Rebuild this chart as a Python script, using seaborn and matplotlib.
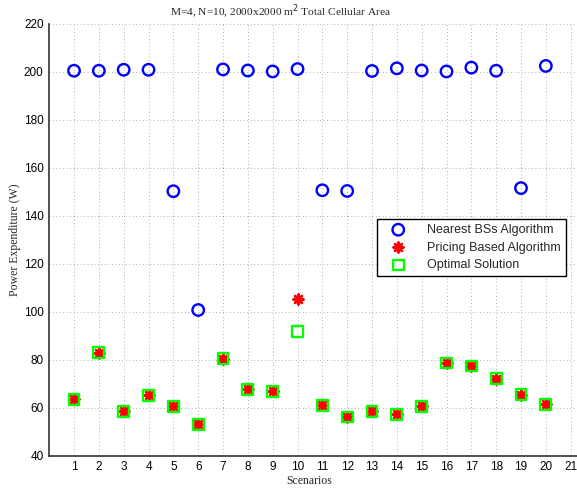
import numpy as np
import pandas as pd
import matplotlib
matplotlib.use("Agg")
import matplotlib.pyplot as plt
import seaborn as sns

# Power expenditure (W) per scenario for the three schemes
scenarios = list(range(1, 21))
nearest_bs = [200.4, 200.4, 200.8, 200.8, 150.2, 100.7, 200.95, 200.5, 200.1, 201.1,
              150.6, 150.3, 200.3, 201.4, 200.5, 200.1, 201.7, 200.4, 151.5, 202.4]
pricing_based = [63.5, 82.9, 58.5, 65.2, 60.6, 53.1, 80.5, 67.6, 66.8, 105.1,
                 61.0, 56.1, 58.5, 57.3, 60.6, 78.6, 77.4, 72.1, 65.5, 61.4]
optimal = [63.5, 82.9, 58.5, 65.2, 60.6, 53.1, 80.5, 67.6, 66.8, 91.6,
           61.0, 56.1, 58.5, 57.3, 60.6, 78.6, 77.4, 72.1, 65.5, 61.4]

x_ticks = list(range(1, 22))
y_ticks = list(range(40, 221, 20))

df = pd.DataFrame({"Scenario": scenarios, "Nearest": nearest_bs,
                   "Pricing": pricing_based, "Optimal": optimal})

sns.set_style("white")
plt.rcParams["font.family"] = ["Liberation Sans", "DejaVu Sans"]

W, H = 577, 496
fig = plt.figure(figsize=(W / 100, H / 100), dpi=100)
ax = fig.add_axes([49.2 / W, 40.3 / H, 546.3 / W, 432.0 / H])

sns.scatterplot(data=df, x="Scenario", y="Nearest", ax=ax, marker="o", s=68,
                facecolors="none", edgecolor="#0000ff", linewidth=1.7,
                label="Nearest BSs Algorithm", zorder=3)
sns.scatterplot(data=df, x="Scenario", y="Pricing", ax=ax, marker=(8, 2, 0), s=50,
                color="#ff0000", edgecolor="#ff0000", linewidth=1.8,
                label="Pricing Based Algorithm", zorder=3)
# optimal squares sit on top so their outline frames the red asterisks
sns.scatterplot(data=df, x="Scenario", y="Optimal", ax=ax, marker="s", s=60,
                facecolors="none", edgecolor="#00ff00", linewidth=1.7,
                label="Optimal Solution", zorder=4)

ax.set_xlim(0, 22)
ax.set_ylim(40, 220)
ax.set_xticks(x_ticks)
ax.set_yticks(y_ticks)
ax.tick_params(direction="in", length=4, width=0.8, labelsize=8.5, colors="black",
               pad=4)
ax.grid(True, color="black", linestyle=(0, (1, 4)), linewidth=0.5, alpha=0.6)
ax.set_axisbelow(True)
for side in ["top", "right"]:
    ax.spines[side].set_visible(False)
for side in ["left", "bottom"]:
    ax.spines[side].set_color("#333333")
    ax.spines[side].set_linewidth(1.2)
ax.set_xlabel("")
ax.set_ylabel("")

serif = ["Liberation Serif", "DejaVu Serif"]
fig.text(281 / W, 1 - 12 / H, "M=4, N=10, 2000x2000 m$^2$ Total Cellular Area",
         ha="center", va="center", fontsize=8.2, family=serif)
fig.text(309 / W, 1 - 481 / H, "Scenarios", ha="center", va="center",
         fontsize=8.5, family=serif)
fig.text(15 / W, 1 - 240 / H, "Power Expenditure (W)", ha="center", va="center",
         rotation=90, fontsize=8.5, family=serif)

handles, labels = ax.get_legend_handles_labels()
order = [labels.index(l) for l in ["Nearest BSs Algorithm", "Pricing Based Algorithm",
                                   "Optimal Solution"]]
leg = ax.legend([handles[i] for i in order], [labels[i] for i in order],
                loc="upper left", bbox_to_anchor=(377 / W, 1 - 219 / H),
                bbox_transform=fig.transFigure, borderaxespad=0, fontsize=9.0,
                frameon=True, fancybox=False, edgecolor="black", framealpha=1,
                handletextpad=1.0, labelspacing=0.45, borderpad=0.4,
                handlelength=2.6)
leg.get_frame().set_linewidth(1.0)

fig.savefig("out.png", dpi=100)
